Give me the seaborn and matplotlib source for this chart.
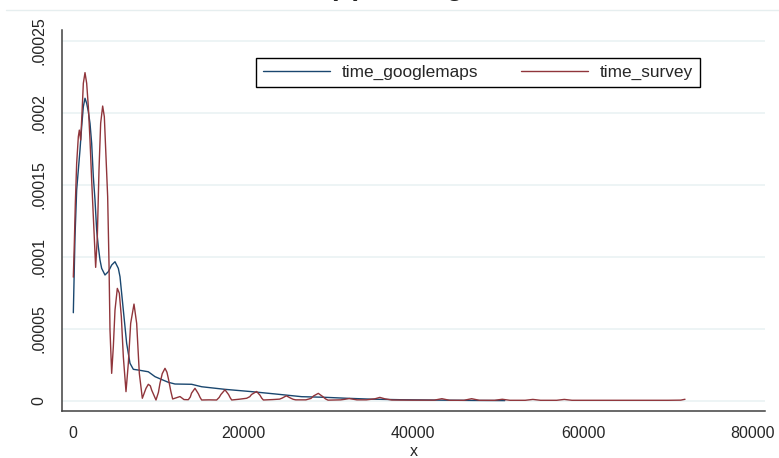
import matplotlib
matplotlib.use("Agg")
import matplotlib.pyplot as plt
import seaborn as sns
import pandas as pd
from matplotlib.lines import Line2D

# kernel density of travel time
gm_x = [39, 235, 431, 627, 823, 1020, 1216, 1412, 1608, 1804, 2000, 2196,
        2392, 2588, 2784, 2980, 3176, 3372, 3764, 4157, 4549, 4941, 5333,
        5529, 5921, 6313, 6705, 7098, 7680, 8860, 9650, 10400, 11210, 12000,
        13960, 15140, 17880, 21020, 23770, 26900, 29500, 32200, 35000, 38500,
        43100, 47000, 50800]
gm_y = [6.13e-5, 1.14e-4, 1.465e-4, 1.604e-4, 1.743e-4, 1.905e-4, 2.044e-4,
        2.102e-4, 2.067e-4, 2.009e-4, 1.928e-4, 1.789e-4, 1.557e-4, 1.396e-4,
        1.187e-4, 1.071e-4, 9.79e-5, 9.21e-5, 8.75e-5, 8.98e-5, 9.44e-5,
        9.67e-5, 9.21e-5, 8.63e-5, 6.31e-5, 4.0e-5, 2.62e-5, 2.2e-5, 2.15e-5,
        2.03e-5, 1.69e-5, 1.5e-5, 1.3e-5, 1.18e-5, 1.16e-5, 9.9e-6, 8.1e-6,
        6.5e-6, 4.9e-6, 3.0e-6, 2.6e-6, 1.9e-6, 1.3e-6, 9e-7, 6e-7, 4e-7,
        3e-7]

sv_x = [39, 156, 274, 431, 627, 745, 902, 1059, 1216, 1412, 1608, 1804, 2000,
        2196, 2392, 2666, 2862, 3058, 3254, 3490, 3686, 3882, 4078, 4235, 4353,
        4549, 4745, 4941, 5215, 5451, 5686, 5921, 6235, 6509, 6784, 7176, 7490,
        7803, 8156, 8400, 8588, 8862, 9100, 9254, 9764, 10050, 10234, 10500,
        10823, 11050, 11215, 11500, 11725, 12588, 13058, 13568, 13800, 13950,
        14352, 14750, 14950, 15136, 16000, 16900, 17200, 17400, 17880, 18300,
        18500, 18670, 19500, 20430, 20800, 21000, 21600, 22000, 22200, 22400,
        23500, 24300, 24600, 25100, 25600, 25900, 26200, 27400, 28000, 28300,
        28860, 29400, 29700, 30000, 31500, 32000, 32500, 33000, 33400, 34500,
        35500, 36100, 36700, 37500, 40000, 42500, 43400, 44300, 46000, 46900,
        47800, 49600, 50500, 51400, 53200, 54100, 55000, 56900, 57800, 58700,
        62000, 66000, 70000, 71500, 72000]
sv_y = [8.6e-5, 1.095e-4, 1.372e-4, 1.65e-4, 1.835e-4, 1.881e-4, 1.812e-4,
        1.998e-4, 2.206e-4, 2.28e-4, 2.206e-4, 2.044e-4, 1.812e-4, 1.534e-4,
        1.28e-4, 9.28e-5, 1.14e-4, 1.604e-4, 1.928e-4, 2.048e-4, 1.974e-4,
        1.696e-4, 1.419e-4, 9.56e-5, 4.93e-5, 1.92e-5, 3.77e-5, 6.31e-5,
        7.82e-5, 7.48e-5, 5.86e-5, 3.08e-5, 6.5e-6, 2.62e-5, 5.39e-5, 6.73e-5,
        5.39e-5, 1.92e-5, 1.9e-6, 5.8e-6, 8.8e-6, 1.16e-5, 1.05e-5, 7.6e-6,
        7e-7, 6.0e-6, 1.23e-5, 1.9e-5, 2.27e-5, 2.0e-5, 1.57e-5, 7.0e-6,
        1.4e-6, 3.1e-6, 1.0e-6, 9e-7, 2.8e-6, 5.5e-6, 8.8e-6, 5.0e-6, 2.5e-6,
        7e-7, 8e-7, 7e-7, 2.5e-6, 4.5e-6, 7.8e-6, 4.5e-6, 2.2e-6, 7e-7,
        1.2e-6, 1.9e-6, 3.0e-6, 4.5e-6, 6.6e-6, 4.0e-6, 2.0e-6, 7e-7, 1.0e-6,
        1.3e-6, 2.0e-6, 3.6e-6, 2.0e-6, 1.2e-6, 8e-7, 8e-7, 1.8e-6, 3.5e-6,
        5.3e-6, 3.0e-6, 1.5e-6, 6e-7, 8e-7, 1.2e-6, 1.7e-6, 1.2e-6, 8e-7,
        8e-7, 1.5e-6, 2.5e-6, 1.5e-6, 7e-7, 6e-7, 6e-7, 1.6e-6, 5e-7, 5e-7,
        1.6e-6, 5e-7, 5e-7, 1.2e-6, 5e-7, 5e-7, 1.1e-6, 5e-7, 5e-7, 1.1e-6,
        5e-7, 5e-7, 5e-7, 5e-7, 6e-7, 1.2e-6]

series_names = ["time_googlemaps", "time_survey"]
series_colors = ["#1a476f", "#90353b"]

x_ticks = [0, 20000, 40000, 60000, 80000]
x_tick_labels = ["0", "20000", "40000", "60000", "80000"]
y_ticks = [0, 0.00005, 0.0001, 0.00015, 0.0002, 0.00025]
y_tick_labels = ["0", ".00005", ".0001", ".00015", ".0002", ".00025"]

df = pd.concat([
    pd.DataFrame({"x": gm_x, "density": gm_y, "series": series_names[0]}),
    pd.DataFrame({"x": sv_x, "density": sv_y, "series": series_names[1]}),
], ignore_index=True)

sns.set_style("white")
plt.rcParams["font.family"] = ["Liberation Sans", "DejaVu Sans"]

W, H = 779, 458
fig = plt.figure(figsize=(W / 100, H / 100), dpi=100)
ax = fig.add_axes([62 / W, 1 - 411 / H, (765 - 62) / W, (411 - 30) / H])

sns.lineplot(data=df, x="x", y="density", hue="series",
             palette=dict(zip(series_names, series_colors)),
             estimator=None, sort=False, lw=1.0, ax=ax)

ax.set_xlim(-1294, 81412)
ax.set_ylim(-6.94e-6, 2.576e-4)

ax.set_xticks(x_ticks)
ax.set_xticklabels(x_tick_labels, fontsize=11.5)
ax.set_yticks(y_ticks)
ax.set_yticklabels(y_tick_labels, fontsize=11.5, rotation=90, va="center")
ax.tick_params(direction="out", length=5, width=1, color="#404040", pad=6)
ax.tick_params(axis="y", pad=6)

ax.yaxis.grid(True, color="#eaf2f3", lw=1.2)
ax.xaxis.grid(False)
ax.set_axisbelow(True)

for s in ["top", "right"]:
    ax.spines[s].set_visible(False)
for s in ["left", "bottom"]:
    ax.spines[s].set_color("#404040")
    ax.spines[s].set_linewidth(1.1)

ax.set_xlabel("x", fontsize=11.5, labelpad=2)
ax.set_ylabel("")

handles, labels = ax.get_legend_handles_labels()
ax.get_legend().remove()
leg = ax.legend(handles, labels, loc="upper left",
                bbox_to_anchor=(256 / W, 1 - 58 / H), bbox_transform=fig.transFigure,
                ncol=2, frameon=True, fancybox=False, edgecolor="black",
                framealpha=1, fontsize=12.4, handlelength=3.9, handletextpad=0.7,
                columnspacing=2.45, borderpad=0.4, borderaxespad=0)
leg.get_frame().set_linewidth(1.0)
for h in leg.get_lines():
    h.set_linewidth(1.0)

# title is cut at the top edge in the original
fig.text(396 / W, 1 + 5 / H, "(a) Driving", ha="center", va="baseline",
         fontsize=19.5, fontweight="bold", color="#222222")
fig.add_artist(Line2D([6 / W, 1], [1 - 10 / H, 1 - 10 / H],
                      transform=fig.transFigure, color="#e6eeef", lw=1))

fig.savefig("out.png", dpi=100)
